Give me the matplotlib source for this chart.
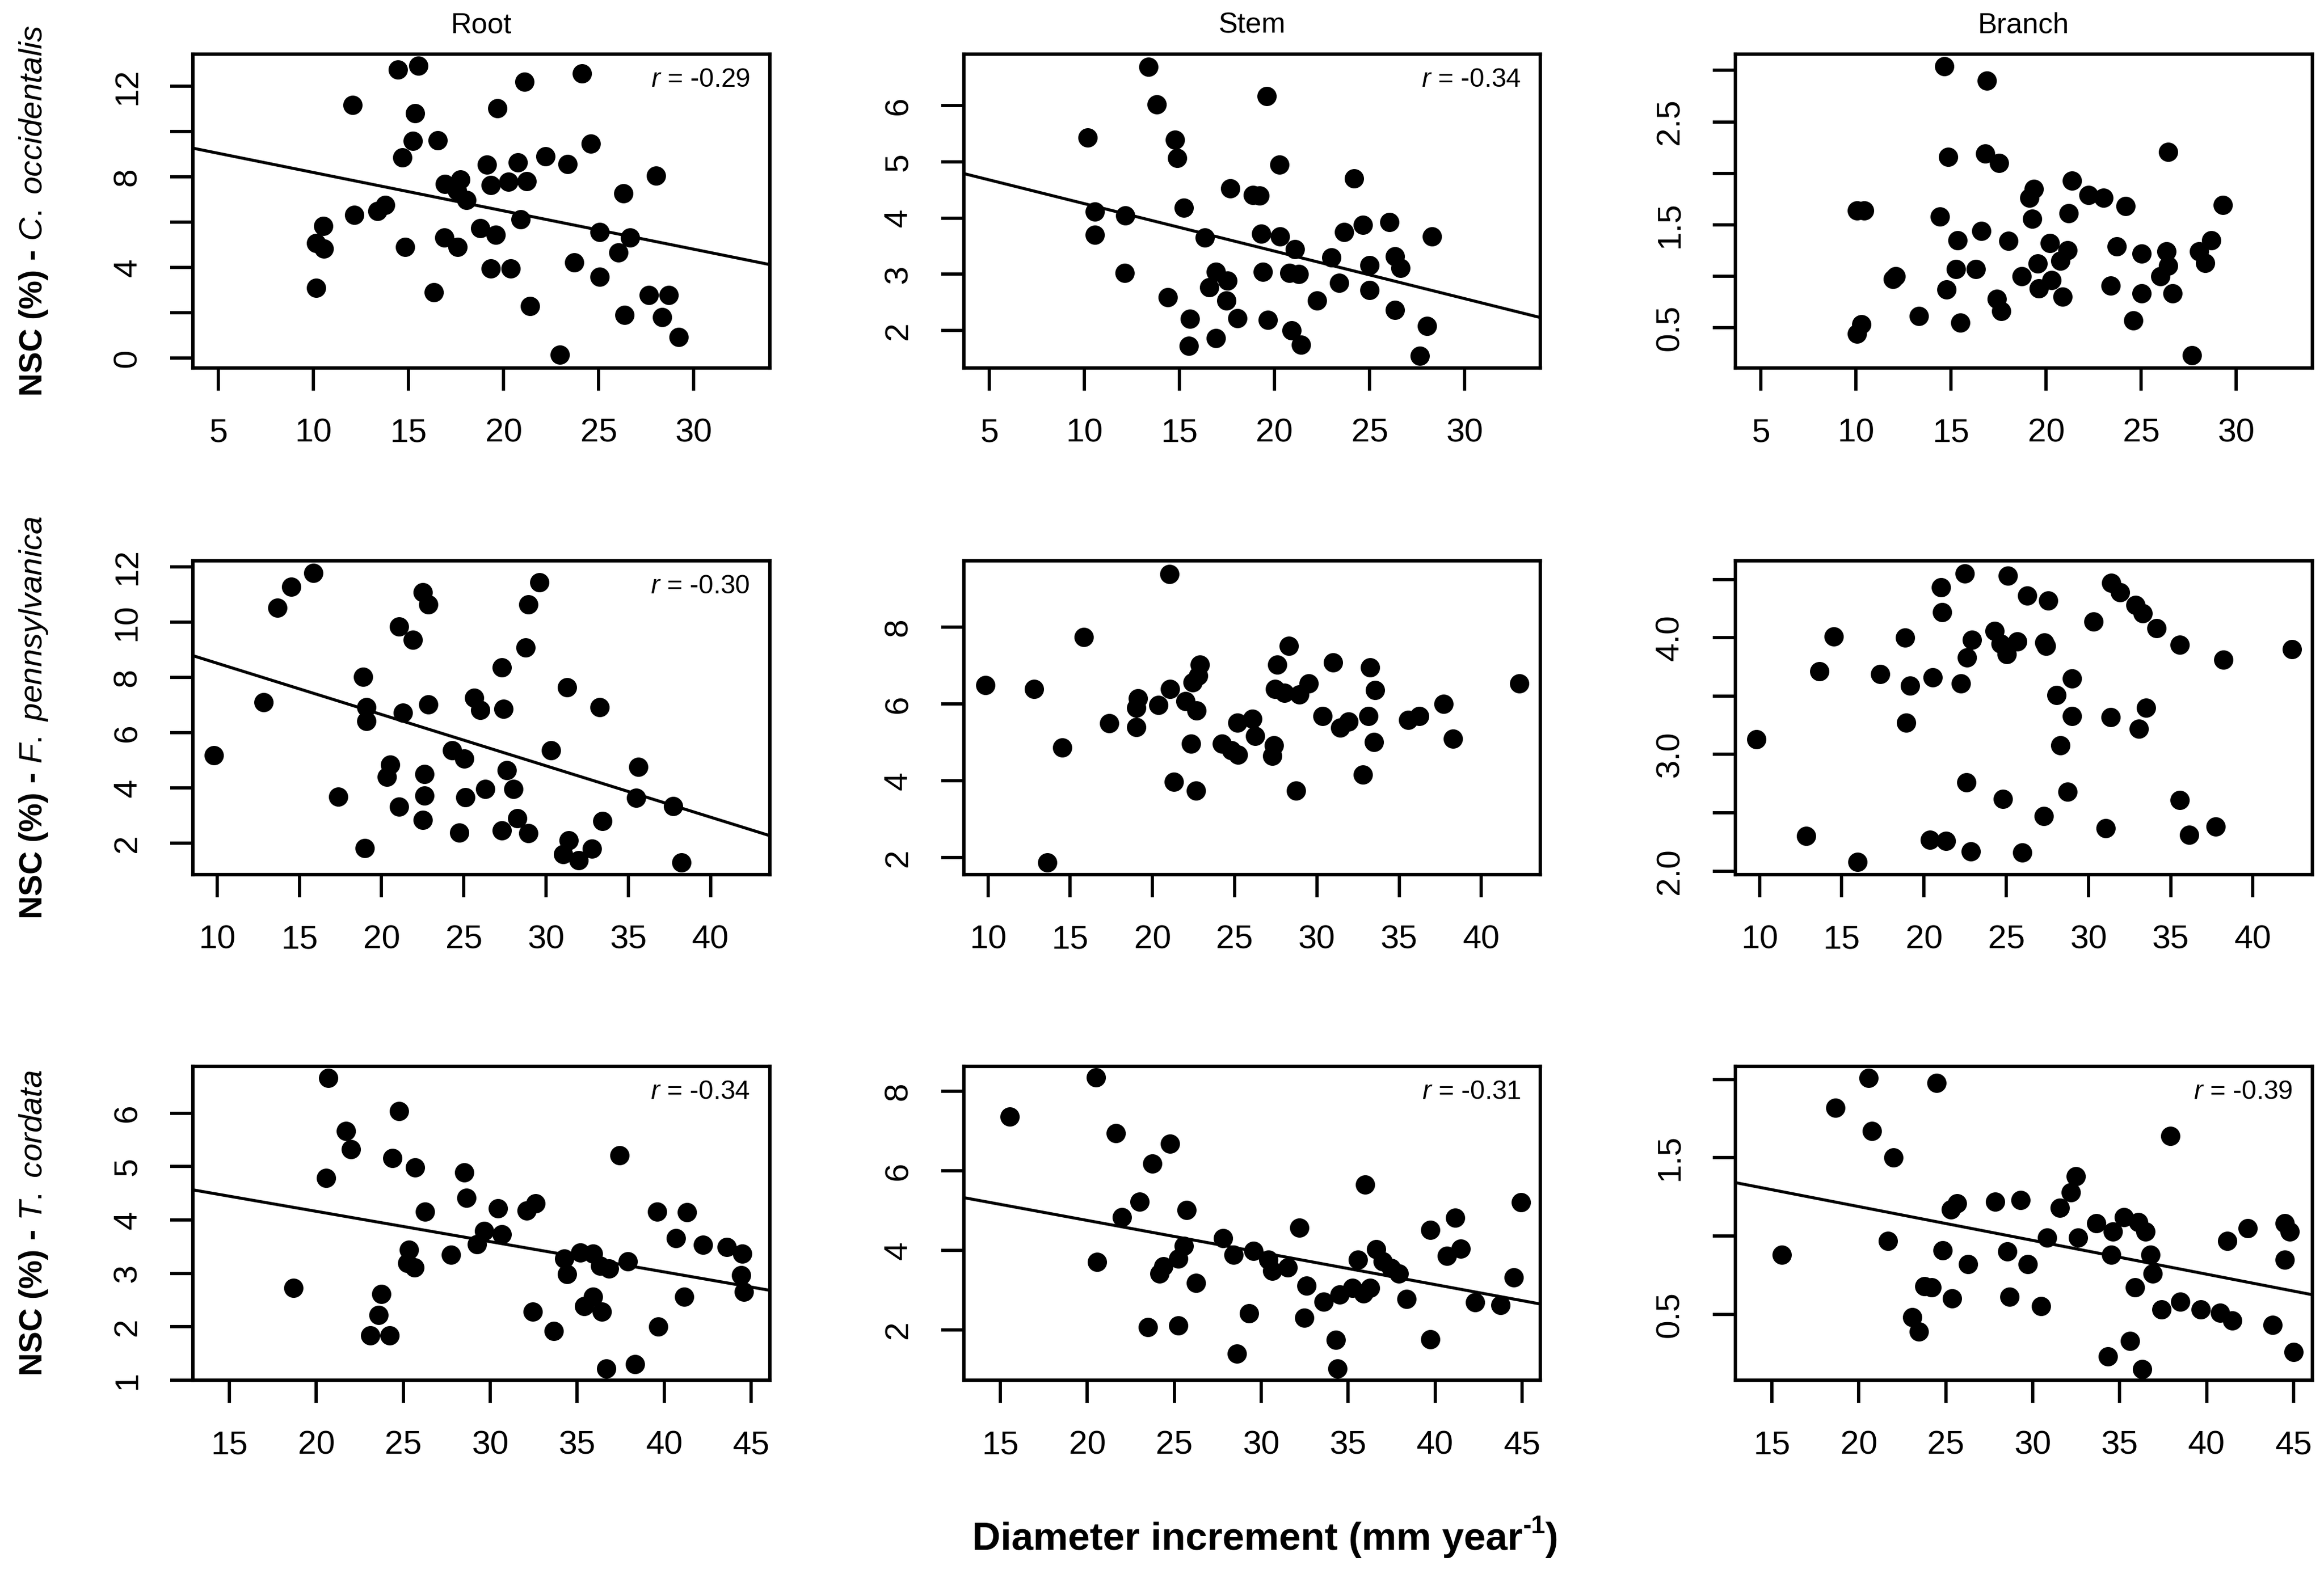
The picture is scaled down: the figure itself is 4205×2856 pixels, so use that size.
import numpy as np
import matplotlib
matplotlib.use("Agg")
import matplotlib.pyplot as plt

plt.rcParams['font.family'] = ['Liberation Sans', 'DejaVu Sans']
plt.rcParams['mathtext.fontset'] = 'custom'
plt.rcParams['mathtext.rm'] = 'Liberation Sans'
plt.rcParams['mathtext.it'] = 'Liberation Sans:italic'
plt.rcParams['mathtext.bf'] = 'Liberation Sans:bold'

# ---- data ----
# C. occidentalis
co_root_x = [14.44, 15.50, 24.11, 21.09, 12.05, 19.66, 15.33, 15.23, 16.52, 24.60, 14.67, 22.19, 23.38,
             19.12, 20.74, 28.01, 16.91, 17.72, 17.56, 19.32, 20.24, 21.20, 26.29, 18.04, 13.77, 13.36,
             12.13, 20.88, 10.51, 18.76, 19.59, 25.04, 26.66, 16.87, 17.58, 10.14, 10.55, 14.81, 26.04,
             23.71, 19.32, 20.36, 25.04, 10.14, 16.33, 21.38, 27.64, 28.68, 26.35, 28.33, 29.20, 22.96]
co_root_y = [12.73, 12.90, 12.58, 12.21, 11.18, 11.03, 10.82, 9.58, 9.61, 9.46, 8.86, 8.91, 8.57,
             8.54, 8.65, 8.05, 7.68, 7.89, 7.40, 7.63, 7.78, 7.80, 7.28, 6.99, 6.77, 6.48,
             6.31, 6.13, 5.83, 5.73, 5.45, 5.56, 5.33, 5.33, 4.90, 5.08, 4.82, 4.90, 4.65,
             4.21, 3.96, 3.96, 3.58, 3.10, 2.90, 2.29, 2.78, 2.78, 1.91, 1.80, 0.92, 0.15]

co_stem_x = [13.36, 13.80, 19.60, 10.18, 14.76, 14.88, 20.25, 24.20, 17.67, 18.86, 19.22, 15.24, 10.54,
             12.16, 10.54, 16.33, 19.29, 20.30, 24.64, 23.67, 26.04, 28.30, 21.07, 22.99, 26.33, 26.64,
             25.00, 12.11, 16.93, 19.39, 20.78, 21.27, 17.53, 16.57, 23.39, 25.00, 14.40, 17.48, 22.23,
             26.33, 15.55, 18.06, 19.65, 20.90, 28.01, 16.93, 15.48, 21.39, 27.65]
co_stem_y = [6.69, 6.02, 6.17, 5.43, 5.39, 5.07, 4.95, 4.70, 4.53, 4.41, 4.40, 4.18, 4.11,
             4.04, 3.70, 3.65, 3.72, 3.67, 3.88, 3.75, 3.93, 3.67, 3.44, 3.30, 3.32, 3.11,
             3.16, 3.02, 3.04, 3.04, 3.02, 3.00, 2.88, 2.77, 2.84, 2.72, 2.59, 2.53, 2.53,
             2.36, 2.21, 2.22, 2.19, 2.00, 2.08, 1.86, 1.72, 1.74, 1.55]

co_branch_x = [14.65, 16.89, 14.85, 16.79, 17.52, 26.41, 21.37, 19.36, 19.11, 22.25, 23.01, 24.19, 29.31,
               10.42, 10.04, 14.40, 21.20, 19.28, 16.59, 15.33, 18.02, 20.19, 23.72, 21.12, 25.03, 26.34,
               28.68, 28.05, 28.38, 20.74, 19.56, 26.41, 15.25, 16.29, 12.10, 11.93, 18.73, 26.03, 20.29,
               23.39, 19.61, 14.75, 25.03, 26.66, 20.87, 17.42, 17.64, 13.31, 15.50, 24.60, 10.29, 10.04,
               27.67]
co_branch_y = [3.04, 2.90, 2.16, 2.19, 2.10, 2.21, 1.93, 1.85, 1.76, 1.79, 1.76, 1.68, 1.69,
               1.64, 1.64, 1.58, 1.61, 1.56, 1.44, 1.35, 1.34, 1.32, 1.29, 1.25, 1.22, 1.24,
               1.35, 1.24, 1.13, 1.15, 1.12, 1.10, 1.07, 1.07, 1.00, 0.97, 1.00, 1.00, 0.96,
               0.91, 0.88, 0.87, 0.83, 0.83, 0.80, 0.78, 0.66, 0.61, 0.55, 0.57, 0.53, 0.44,
               0.23]

# F. pennsylvanica
fp_root_x = [15.84, 14.52, 13.68, 22.50, 22.86, 29.59, 28.94, 21.06, 21.90, 28.75, 27.31, 18.89, 31.27,
             12.84, 22.86, 25.63, 25.99, 27.43, 33.27, 19.09, 21.30, 19.09, 9.81, 24.30, 25.02, 30.31,
             20.53, 20.34, 22.62, 27.60, 35.60, 26.30, 28.03, 17.38, 22.62, 25.10, 35.48, 37.72, 21.06,
             22.50, 28.27, 33.44, 27.31, 28.94, 24.74, 31.39, 32.79, 18.97, 31.03, 31.99, 38.25]
fp_root_y = [11.78, 11.27, 10.52, 11.08, 10.64, 11.44, 10.64, 9.84, 9.36, 9.07, 8.37, 8.03, 7.64,
             7.11, 7.03, 7.26, 6.82, 6.87, 6.92, 6.92, 6.72, 6.43, 5.18, 5.37, 5.06, 5.37,
             4.84, 4.40, 4.50, 4.64, 4.77, 3.97, 3.97, 3.69, 3.72, 3.67, 3.65, 3.34, 3.32,
             2.85, 2.90, 2.80, 2.46, 2.37, 2.39, 2.10, 1.81, 1.84, 1.61, 1.40, 1.32]

fp_stem_x = [21.03, 15.84, 28.29, 27.58, 22.88, 30.99, 33.22, 22.79, 22.45, 9.83, 12.82, 42.31, 29.52,
             21.08, 27.44, 28.01, 28.92, 33.52, 19.12, 19.03, 20.37, 22.02, 37.69, 22.68, 26.07, 25.16,
             30.34, 31.91, 31.42, 33.13, 36.21, 35.56, 17.38, 19.03, 26.24, 24.22, 27.38, 38.26, 33.48,
             22.36, 24.79, 25.21, 27.29, 14.53, 32.79, 21.31, 22.65, 28.72, 13.62]
fp_stem_y = [9.39, 7.75, 7.51, 7.02, 7.02, 7.09, 6.95, 6.74, 6.56, 6.49, 6.39, 6.53, 6.53,
             6.39, 6.39, 6.29, 6.25, 6.36, 6.15, 5.90, 5.97, 6.08, 6.01, 5.83, 5.62, 5.52,
             5.69, 5.55, 5.38, 5.69, 5.69, 5.59, 5.50, 5.40, 5.17, 4.96, 4.93, 5.10, 5.01,
             4.96, 4.79, 4.68, 4.65, 4.86, 4.16, 3.97, 3.74, 3.74, 1.87]

fp_branch_x = [22.48, 25.09, 21.03, 31.39, 31.92, 26.26, 27.56, 32.85, 33.31, 21.09, 30.32, 34.15, 24.28,
               14.50, 18.85, 22.92, 25.67, 24.66, 27.33, 27.42, 35.54, 42.37, 25.04, 22.63, 38.21, 13.63,
               17.34, 20.54, 29.01, 19.14, 22.23, 28.06, 33.51, 29.01, 31.34, 18.91, 33.08, 9.80, 28.29,
               22.57, 28.72, 24.80, 35.54, 27.27, 31.05, 37.72, 12.82, 20.36, 21.32, 36.13, 22.86, 25.97,
               15.95]
fp_branch_y = [4.55, 4.53, 4.43, 4.47, 4.39, 4.36, 4.32, 4.28, 4.21, 4.22, 4.14, 4.08, 4.06,
               4.01, 4.00, 3.98, 3.97, 3.95, 3.96, 3.93, 3.94, 3.90, 3.86, 3.83, 3.81, 3.71,
               3.69, 3.66, 3.65, 3.59, 3.61, 3.51, 3.40, 3.33, 3.32, 3.27, 3.22, 3.13, 3.08,
               2.76, 2.68, 2.62, 2.61, 2.47, 2.37, 2.38, 2.30, 2.27, 2.26, 2.31, 2.17, 2.16,
               2.08]

# T. cordata
tc_root_x = [20.68, 24.77, 21.70, 21.99, 24.36, 25.68, 37.43, 20.57, 28.52, 28.64, 26.25, 30.45, 32.09,
             32.61, 39.61, 41.32, 29.66, 30.68, 29.25, 40.68, 42.23, 43.59, 44.50, 25.34, 27.73, 25.23,
             25.64, 34.27, 35.18, 35.91, 34.43, 36.32, 36.82, 37.91, 44.43, 44.59, 41.14, 18.68, 23.75,
             35.91, 35.41, 36.43, 23.57, 32.45, 23.11, 24.20, 33.64, 39.66, 38.34, 36.66]
tc_root_y = [6.66, 6.04, 5.66, 5.32, 5.16, 4.98, 5.21, 4.79, 4.89, 4.41, 4.15, 4.22, 4.17,
             4.31, 4.15, 4.14, 3.79, 3.73, 3.54, 3.66, 3.53, 3.49, 3.37, 3.44, 3.35, 3.19,
             3.11, 3.27, 3.39, 3.37, 2.99, 3.14, 3.09, 3.22, 2.96, 2.65, 2.56, 2.73, 2.61,
             2.56, 2.38, 2.28, 2.22, 2.28, 1.84, 1.84, 1.92, 2.00, 1.30, 1.22]

tc_stem_x = [20.50, 15.54, 21.66, 24.75, 23.75, 35.99, 44.95, 23.02, 25.70, 21.99, 41.16, 39.72, 32.19,
             27.81, 25.56, 36.61, 41.48, 40.67, 29.57, 28.40, 25.24, 24.37, 24.16, 30.43, 30.65, 31.52,
             35.58, 37.01, 37.47, 37.91, 44.52, 26.26, 32.60, 33.58, 34.52, 35.25, 35.88, 36.28, 38.37,
             42.29, 43.78, 29.30, 32.47, 23.48, 25.24, 20.58, 34.31, 39.72, 28.62, 34.39]
tc_stem_y = [8.35, 7.37, 6.95, 6.68, 6.18, 5.65, 5.21, 5.22, 5.01, 4.84, 4.82, 4.52, 4.57,
             4.31, 4.11, 4.03, 4.04, 3.86, 3.99, 3.89, 3.79, 3.59, 3.42, 3.76, 3.49, 3.57,
             3.76, 3.72, 3.55, 3.42, 3.32, 3.18, 3.11, 2.71, 2.88, 3.05, 2.91, 3.05, 2.78,
             2.69, 2.62, 2.41, 2.30, 2.07, 2.10, 3.70, 1.74, 1.76, 1.39, 1.02]

tc_branch_x = [20.55, 24.48, 18.67, 20.75, 37.93, 21.99, 32.49, 32.21, 27.85, 29.31, 25.64, 25.30, 31.57,
               35.25, 36.08, 33.65, 36.49, 34.61, 42.35, 44.50, 44.78, 32.62, 30.83, 21.66, 41.19, 15.58,
               24.81, 28.54, 34.50, 36.77, 26.27, 29.72, 44.50, 36.91, 23.78, 24.20, 35.88, 25.36, 28.67,
               38.48, 30.47, 37.40, 39.67, 40.77, 41.46, 23.09, 23.45, 43.81, 35.61, 34.34, 45.00, 36.30]
tc_branch_y = [2.01, 1.98, 1.82, 1.67, 1.64, 1.50, 1.38, 1.28, 1.22, 1.23, 1.21, 1.17, 1.18,
               1.12, 1.09, 1.08, 1.03, 1.03, 1.05, 1.08, 1.03, 0.99, 0.99, 0.97, 0.97, 0.88,
               0.91, 0.90, 0.88, 0.88, 0.82, 0.82, 0.85, 0.76, 0.68, 0.67, 0.67, 0.60, 0.61,
               0.58, 0.55, 0.53, 0.53, 0.51, 0.46, 0.48, 0.39, 0.43, 0.33, 0.23, 0.26, 0.15]

organs = ['Root', 'Stem', 'Branch']
species = ['C.\\ occidentalis', 'F.\\ pennsylvanica', 'T.\\ cordata']

xs = [[co_root_x, co_stem_x, co_branch_x],
      [fp_root_x, fp_stem_x, fp_branch_x],
      [tc_root_x, tc_stem_x, tc_branch_x]]
ys = [[co_root_y, co_stem_y, co_branch_y],
      [fp_root_y, fp_stem_y, fp_branch_y],
      [tc_root_y, tc_stem_y, tc_branch_y]]

# fitted lines (intercept, slope) and r, None where no line is drawn
fits = [[(9.888, -0.1694), (5.100, -0.0845), None],
        [(10.369, -0.1855), None, None],
        [(5.294, -0.0567), (6.369, -0.0808), (1.620, -0.0216)]]
r_vals = [['-0.29', '-0.34', None],
          ['-0.30', None, None],
          ['-0.34', '-0.31', '-0.39']]

xlims = [(3.65, 34.0), (8.53, 43.6), (12.9, 46.07)]
xticks = [[5, 10, 15, 20, 25, 30], [10, 15, 20, 25, 30, 35, 40], [15, 20, 25, 30, 35, 40, 45]]
ylims = [[(-0.44, 13.43), (1.33, 6.92), (0.107, 3.16)],
         [(0.87, 12.22), (1.55, 9.74), (1.97, 4.66)],
         [(1.0, 6.88), (0.73, 8.64), (0.079, 2.086)]]
yticks = [[[0, 2, 4, 6, 8, 10, 12], [2, 3, 4, 5, 6], [0.5, 1.0, 1.5, 2.0, 2.5, 3.0]],
          [[2, 4, 6, 8, 10, 12], [2, 4, 6, 8], [2.0, 2.5, 3.0, 3.5, 4.0, 4.5]],
          [[1, 2, 3, 4, 5, 6], [2, 4, 6, 8], [0.5, 1.0, 1.5, 2.0]]]
ylabels = [[['0', '', '4', '', '8', '', '12'], ['2', '3', '4', '5', '6'], ['0.5', '', '1.5', '', '2.5', '']],
           [['2', '4', '6', '8', '10', '12'], ['2', '4', '6', '8'], ['2.0', '', '3.0', '', '4.0', '']],
           [['1', '2', '3', '4', '5', '6'], ['2', '4', '6', '8'], ['0.5', '', '1.5', '']]]

fig = plt.figure(figsize=(4205 / 300, 2856 / 300), dpi=300)

lefts = [0.0830, 0.4147, 0.7467]
bottoms = [0.7668, 0.4457, 0.1254]
w, h = 0.2482, 0.199

for i in range(3):
    for j in range(3):
        ax = fig.add_axes([lefts[j], bottoms[i], w, h])
        ax.plot(xs[i][j], ys[i][j], 'o', color='black', ms=8.4, mew=0)
        if fits[i][j] is not None:
            a, b = fits[i][j]
            ax.axline((0, a), slope=b, color='black', lw=1.3)
        if r_vals[i][j] is not None:
            ax.text(0.966, 0.917, r'$\mathit{r}$ = ' + r_vals[i][j], transform=ax.transAxes,
                    ha='right', va='center', fontsize=11.5)
        ax.set_xlim(*xlims[i])
        ax.set_ylim(*ylims[i][j])
        ax.set_xticks(xticks[i])
        ax.set_xticklabels([str(t) for t in xticks[i]])
        ax.set_yticks(yticks[i][j])
        ax.set_yticklabels(ylabels[i][j], rotation=90, va='center')
        ax.tick_params(direction='out', length=9.8, width=1.4, labelsize=14.5, pad=12)
        for s in ax.spines.values():
            s.set_linewidth(1.5)
        if i == 0:
            fig.text(lefts[j] + w / 2, 0.984, organs[j], ha='center', va='center', fontsize=12.5)
    fig.text(0.0145, bottoms[i] + h / 2,
             r'NSC (%) - $\mathit{' + species[i] + '}$',
             rotation=90, ha='center', va='center', fontsize=14, fontweight='bold')

# x label with a plain hyphen in the superscript
renderer = fig.canvas.get_renderer()
fw, fh = fig.bbox.width, fig.bbox.height
xc, yb = 0.5445, 0.018
parts = [('Diameter increment (mm year', 17, 0.0),
         ('-1', 11, 0.0105),
         (')', 17, 0.0)]
texts = []
for s, size, dy in parts:
    t = fig.text(0, yb + dy, s, fontsize=size, fontweight='bold', ha='left', va='baseline')
    texts.append(t)
widths = [t.get_window_extent(renderer).width / fw for t in texts]
x0 = xc - sum(widths) / 2
for t, wd in zip(texts, widths):
    t.set_x(x0)
    x0 += wd

fig.savefig('out.png', dpi=300)
